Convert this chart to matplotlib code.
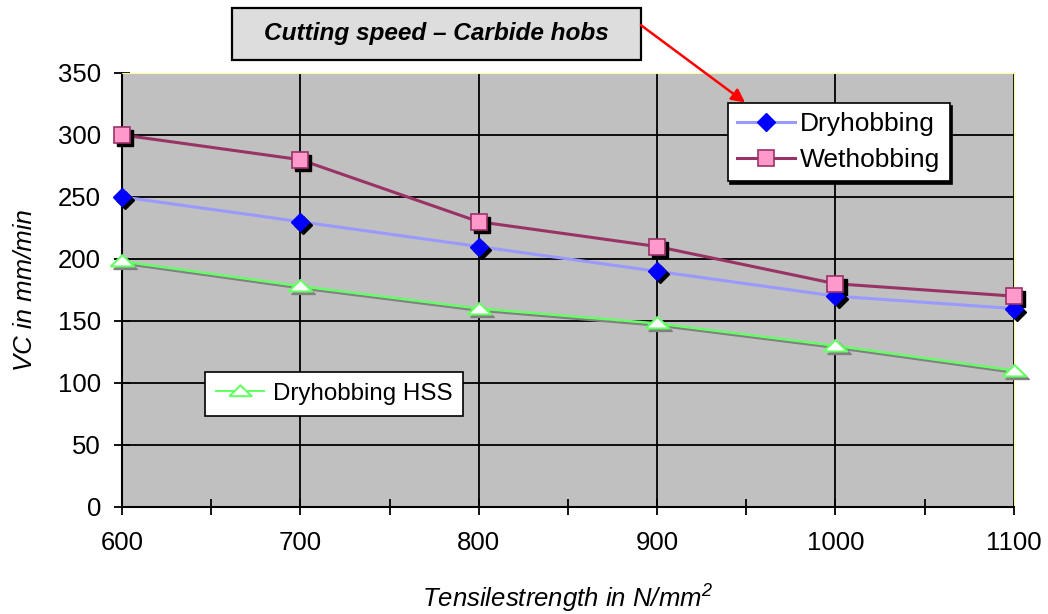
import matplotlib.pyplot as plt
import matplotlib.patheffects as pe
from matplotlib.lines import Line2D
from matplotlib.patches import Rectangle, FancyArrowPatch
from matplotlib.transforms import ScaledTranslation

plt.rcParams['font.family'] = ['Liberation Sans', 'DejaVu Sans']

# Data
strength = [600, 700, 800, 900, 1000, 1100]
dry = [250, 230, 210, 190, 170, 160]
wet = [300, 280, 230, 210, 180, 170]
dry_hss = [198, 178, 160, 148, 130, 110]

fig = plt.figure(figsize=(10.48, 6.14), dpi=100)
ax = fig.add_axes([0.1164, 0.1743, 0.851, 0.707])
ax.set_facecolor('#c0c0c0')

flat_tri = [(-1, -0.42), (1, -0.42), (0, 0.55), (-1, -0.42)]
line_shadow = [pe.SimpleLineShadow(offset=(0.5, -1.5), shadow_color='#808080', alpha=1), pe.Normal()]
shift = ax.transData + ScaledTranslation(2.2 / 72, -2.2 / 72, fig.dpi_scale_trans)

# lines
ax.plot(strength, dry, color='#9999ff', lw=2.2, zorder=3)
ax.plot(strength, wet, color='#993366', lw=2.2, zorder=3)
ax.plot(strength, dry_hss, color='#66ff66', lw=1.8, path_effects=line_shadow, zorder=3)

# marker drop shadows
ax.plot(strength, dry, ls='none', marker='D', ms=9, color='black', transform=shift, zorder=4, clip_on=False)
ax.plot(strength, wet, ls='none', marker='s', ms=11, color='black', transform=shift, zorder=4, clip_on=False)
ax.plot(strength, dry_hss, ls='none', marker=flat_tri, ms=17, color='#808080', transform=shift,
        zorder=3.5, clip_on=False)

# markers
ax.plot(strength, dry, ls='none', marker='D', ms=9, mfc='#0000ff', mec='#0000ff', zorder=5, clip_on=False)
ax.plot(strength, wet, ls='none', marker='s', ms=11, mfc='#ff99cc', mec='#993366', mew=1.2,
        zorder=6, clip_on=False)
ax.plot(strength, dry_hss, ls='none', marker=flat_tri, ms=17, mfc='white', mec='#66ff66', mew=1.5,
        zorder=4.5, clip_on=False)

ax.set_xlim(600, 1100)
ax.set_ylim(0, 350)
ax.set_xticks(strength)
ax.set_xticks([650, 750, 850, 950, 1050], minor=True)
ax.set_yticks(range(0, 351, 50))
ax.grid(True, which='major', color='black', lw=1.3)
ax.tick_params(axis='both', which='both', direction='inout', length=12, width=1.3,
               labelsize=18.5, colors='black')
ax.tick_params(axis='x', pad=11)
ax.tick_params(axis='y', pad=9)
for s in ['top', 'right']:
    ax.spines[s].set_color('#ffff99')
for s in ['left', 'bottom']:
    ax.spines[s].set_linewidth(1.5)
ax.set_axisbelow(True)

ax.set_xlabel('Tensilestrength in N/mm$^{\\mathregular{2}}$', fontsize=18.5, style='italic', labelpad=19)
ax.set_ylabel('VC in mm/min', fontsize=18.5, style='italic', labelpad=15)

h_dry = Line2D([], [], color='#9999ff', lw=2.2, marker='D', ms=9, mfc='#0000ff', mec='#0000ff')
h_wet = Line2D([], [], color='#993366', lw=2.2, marker='s', ms=11, mfc='#ff99cc', mec='#993366', mew=1.2)
h_hss = Line2D([], [], color='#66ff66', lw=1.5, marker=flat_tri, ms=16, mfc='white', mec='#66ff66', mew=1.5)

leg1 = ax.legend([h_dry, h_wet], ['Dryhobbing', 'Wethobbing'], loc='upper left',
                 bbox_to_anchor=(0.679, 0.931), borderaxespad=0,
                 fontsize=19, frameon=True, fancybox=False, framealpha=1,
                 edgecolor='black', handlelength=2.2, borderpad=0.35,
                 labelspacing=0.45, handletextpad=0.2,
                 shadow={'color': 'black', 'alpha': 1})
leg1.get_frame().set_linewidth(1.2)
leg1.set_zorder(10)
ax.add_artist(leg1)
leg2 = ax.legend([h_hss], ['Dryhobbing HSS'], loc='upper left',
                 bbox_to_anchor=(0.093, 0.311), borderaxespad=0,
                 fontsize=17.4, frameon=True, fancybox=False, framealpha=1,
                 edgecolor='black', handlelength=2.0, borderpad=0.45,
                 handletextpad=0.35)
leg2.get_frame().set_linewidth(1.2)
leg2.set_zorder(10)

# Title box with arrow
fig.patches.append(Rectangle((0.2214, 0.9023), 0.3903, 0.0847, transform=fig.transFigure,
                             fc='#dddddd', ec='black', lw=1.6))
fig.text(0.416, 0.946, 'Cutting speed \u2013 Carbide hobs', ha='center', va='center',
         fontsize=17.6, weight='bold', style='italic')
fig.patches.append(FancyArrowPatch((0.6116, 0.959), (0.711, 0.833), transform=fig.transFigure,
                                   arrowstyle='-|>', mutation_scale=20, color='#ff0000', lw=1.8,
                                   shrinkA=0, shrinkB=0))

fig.savefig('out.png', dpi=100)
